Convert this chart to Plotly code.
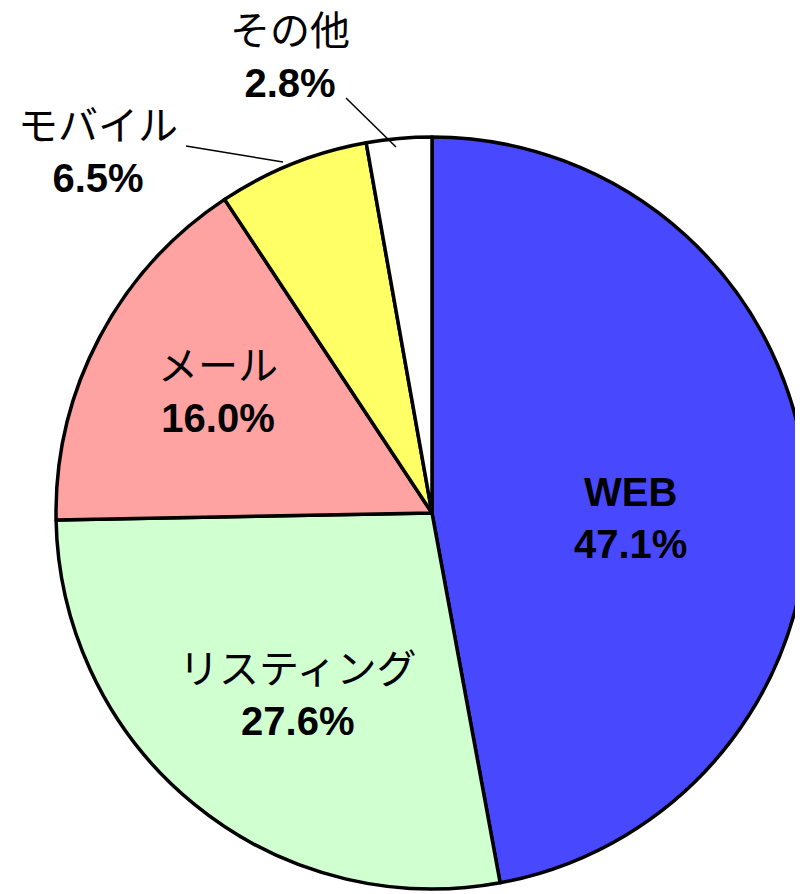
import plotly.graph_objects as go

# Data
categories = ["WEB", "リスティング", "メール", "モバイル", "その他"]
shares = [47.1, 27.6, 16.0, 6.5, 2.8]
colors = ["#4848ff", "#d0ffd0", "#ffa2a2", "#ffff66", "#ffffff"]

W, H = 803, 894
OFF = 8  # page body margin offset
FONT = "Liberation Sans, Arial, Noto Sans CJK JP, sans-serif"

fig = go.Figure(go.Pie(
    labels=categories,
    values=shares,
    sort=False,
    direction="clockwise",
    rotation=0,
    textinfo="none",
    marker=dict(colors=colors, line=dict(color="black", width=3.5)),
    domain=dict(x=[48 / W, 800 / W], y=[13 / H, 765 / H]),
    showlegend=False,
    hoverinfo="label+percent",
))


def label_text(name, val):
    nm = f"<b>{name}</b>" if name.isascii() else name
    return f"{nm}<br><b>{val:.1f}%</b>"


# label block centres (screen pixels from top-left)
label_pos = [(630, 518), (298, 695), (218, 392), (98, 152), (290, 57)]
for name, val, (px, py) in zip(categories, shares, label_pos):
    fig.add_annotation(
        x=(px - OFF) / W, y=1 - (py - OFF) / H, xref="paper", yref="paper",
        text=label_text(name, val), showarrow=False,
        xanchor="center", yanchor="middle", align="center",
        font=dict(family=FONT, size=40, color="black"),
    )

# leader lines for the small slices
leaders = [((186, 146), (283, 162)), ((346, 98), (396, 147))]
for (x0, y0), (x1, y1) in leaders:
    fig.add_shape(type="line", xref="paper", yref="paper",
                  x0=(x0 - OFF) / W, y0=1 - (y0 - OFF) / H,
                  x1=(x1 - OFF) / W, y1=1 - (y1 - OFF) / H,
                  line=dict(color="black", width=1.5))

fig.update_layout(
    width=W, height=H,
    margin=dict(l=0, r=0, t=0, b=0),
    paper_bgcolor="white", plot_bgcolor="white",
    font=dict(family=FONT),
)

fig.write_html("out.html")
